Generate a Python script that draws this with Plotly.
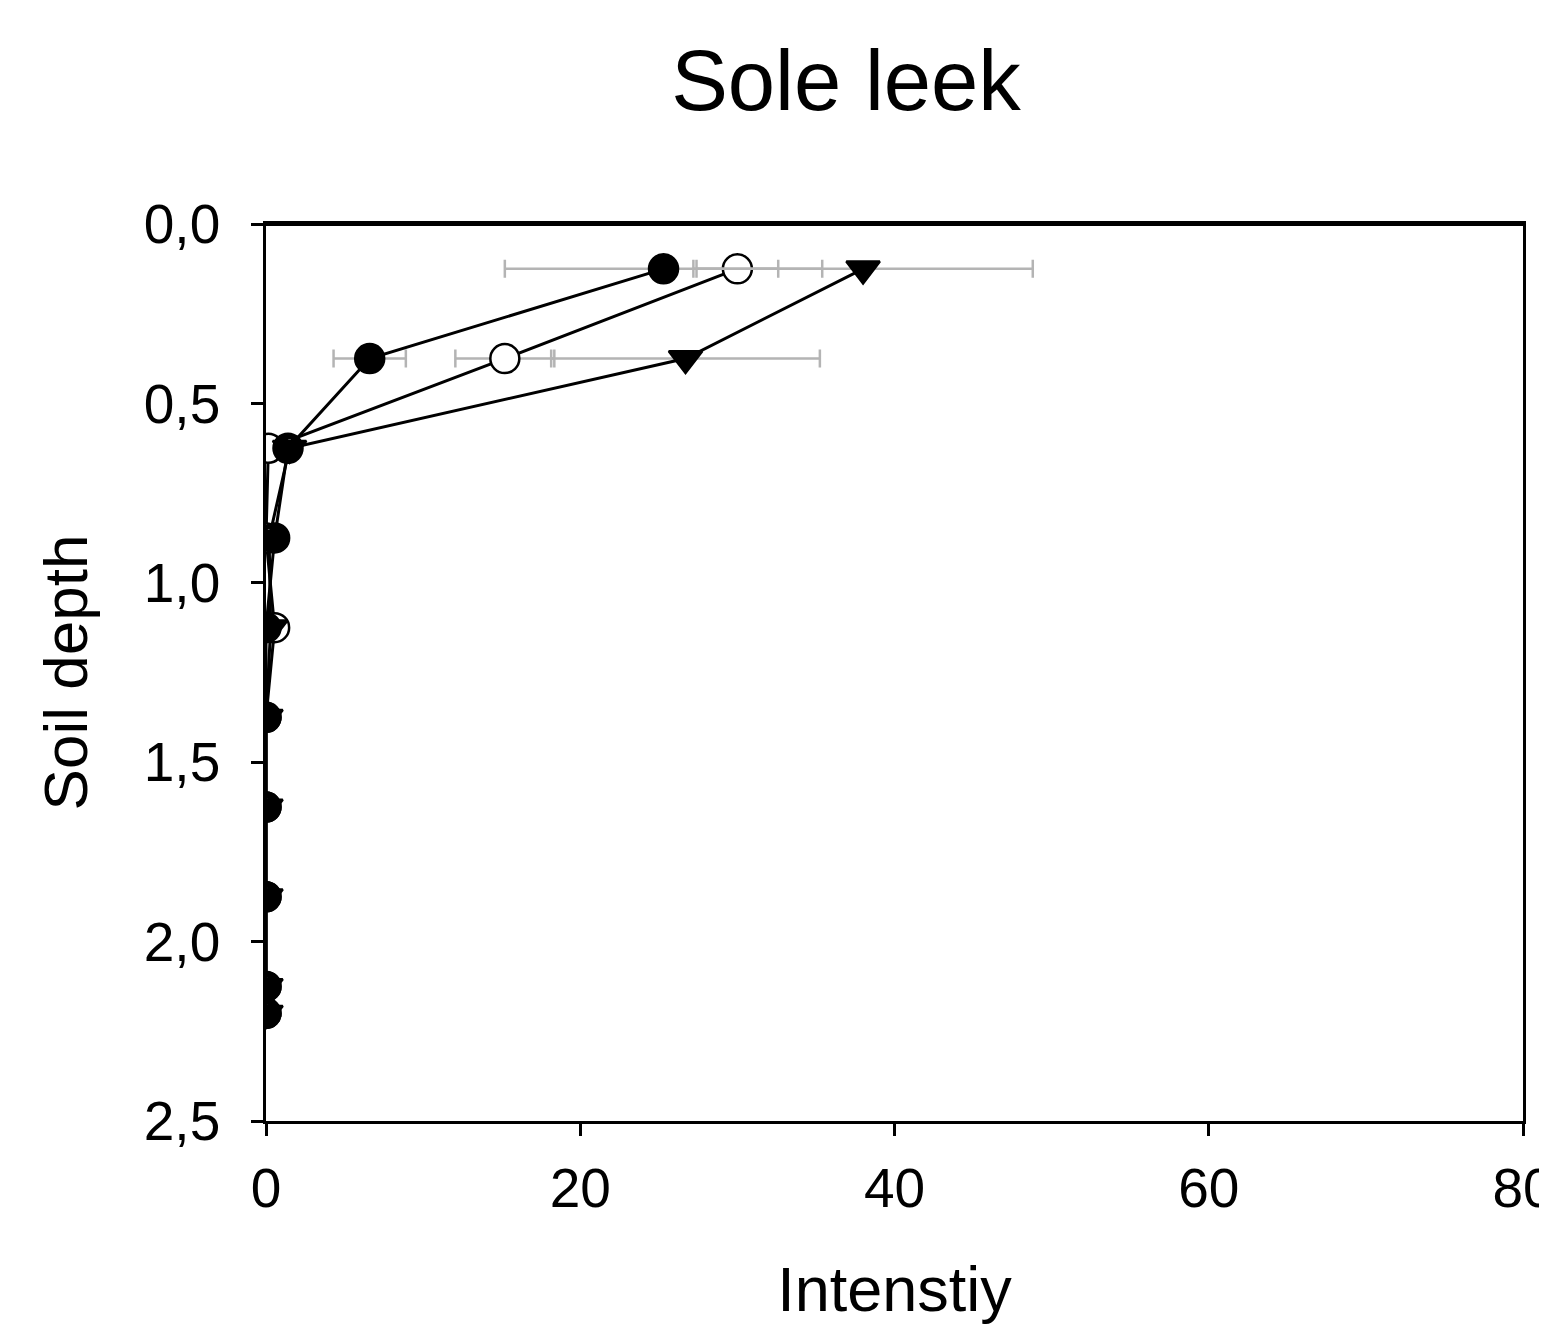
import plotly.graph_objects as go

depth = [0.125, 0.375, 0.625, 0.875, 1.125, 1.375, 1.625, 1.875, 2.125, 2.2]
filled_vals = [25.3, 6.6, 1.4, 0.55, 0.0, 0.0, 0.0, 0.0, 0.0, 0.0]
filled_err = [10.1, 2.3, 0, 0, 0, 0, 0, 0, 0, 0]
open_vals = [30.0, 15.2, 0.15, 0.0, 0.55, 0.0, 0.0, 0.0, 0.0, 0.0]
open_err = [2.6, 3.15, 0, 0, 0, 0, 0, 0, 0, 0]
tri_vals = [38.0, 26.7, 1.5, 0.2, 0.3, 0.0, 0.0, 0.0, 0.0, 0.0]
tri_err = [10.8, 8.55, 0, 0, 0, 0, 0, 0, 0, 0]

y_ticks = [0, 0.5, 1.0, 1.5, 2.0, 2.5]
x_ticks = [0, 20, 40, 60, 80]

FONT = "Liberation Sans, Arial, sans-serif"
err_style = dict(type="data", visible=True, color="#b4b4b4", thickness=2.5, width=9)

fig = go.Figure()

def add(vals, err, symbol, fill):
    fig.add_trace(go.Scatter(
        x=vals, y=depth, mode="lines+markers",
        error_x=dict(array=err, **err_style),
        line=dict(color="black", width=3),
        marker=dict(symbol=symbol, size=29, color=fill,
                    line=dict(color="black", width=2.5)),
        showlegend=False,
    ))

add(open_vals, open_err, "circle", "white")
add(filled_vals, filled_err, "circle", "black")
add(tri_vals, tri_err, "triangle-down", "black")

W, H = 1539, 1318
fig.update_layout(
    width=W, height=H,
    margin=dict(l=258, r=24, t=216, b=205),
    paper_bgcolor="white", plot_bgcolor="white",
    separators=",.",
    font=dict(family=FONT, color="black"),
    title=dict(text="Sole leek", font=dict(size=85, family=FONT),
               x=838 / W, xref="container", xanchor="center",
               y=1 - 72 / H, yref="container", yanchor="middle",
               automargin=False),
    shapes=[dict(type="line", xref="paper", yref="paper", x0=0, x1=1, y0=1, y1=1,
                 line=dict(color="black", width=4))],
)

fig.update_xaxes(
    automargin=False,
    range=[0, 80], tickvals=x_ticks, ticktext=[str(v) for v in x_ticks],
    showgrid=False, zeroline=False,
    showline=True, linecolor="black", linewidth=2.5, mirror=True,
    ticks="outside", ticklen=12, tickwidth=2.5, tickcolor="black",
    tickfont=dict(size=55, family=FONT),
    ticklabeloverflow="allow", ticklabelstandoff=5,
    title=dict(text="Intenstiy", font=dict(size=63, family=FONT), standoff=50),
)
fig.update_yaxes(
    automargin=False,
    range=[2.5, 0], tickvals=y_ticks, tickformat=".1f",
    showgrid=False, zeroline=False,
    showline=True, linecolor="black", linewidth=2.5, mirror=True,
    ticks="outside", ticklen=12, tickwidth=2.5, tickcolor="black",
    tickfont=dict(size=55, family=FONT),
    ticklabelstandoff=20,
    title=dict(text="Soil depth", font=dict(size=62, family=FONT), standoff=37),
)

fig.write_html("out.html")
